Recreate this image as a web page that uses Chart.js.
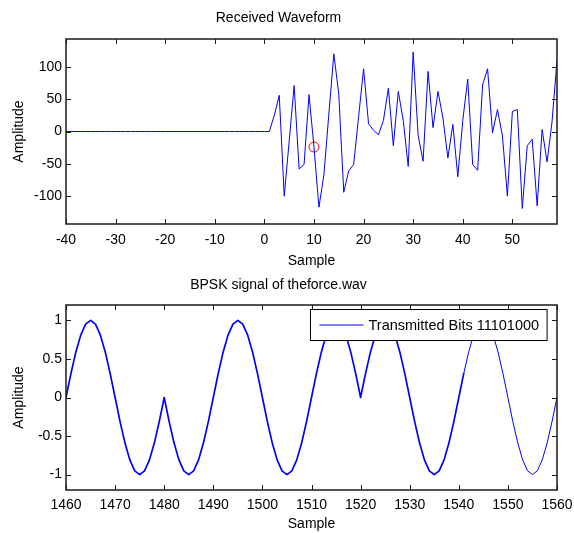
<!DOCTYPE html>
<html>
<head>
<meta charset="utf-8">
<script src="https://cdn.jsdelivr.net/npm/chart.js@4/dist/chart.umd.min.js"></script>
<style>
html,body{margin:0;padding:0;background:#fff;}
#wrap{position:relative;width:574px;height:533px;}
#topo{position:absolute;left:0;top:0;}
#baixo{position:absolute;left:0;top:270px;}
</style>
</head>
<body>
<div id="wrap">
<canvas id="topo" width="574" height="270"></canvas>
<canvas id="baixo" width="574" height="263"></canvas>
</div>
<script>
// ------------------- DADOS -------------------
// forma de onda recebida, amostras -40 .. 59
const recebidoInicio = -40;
const recebido = [
  0,0,0,0,0,0,0,0,0,0,
  0,0,0,0,0,0,0,0,0,0,
  0,0,0,0,0,0,0,0,0,0,
  0,0,0,0,0,0,0,0,0,0,
  0,                                   // amostra 0
  0,25,56,-100,-15,71,-58,-51,57,-24,  // 1..10
  -117,-67,27,120,58,-94,-61,-51,23,97,// 11..20
  12,2,-5,17,67,-22,62,17,-54,123,     // 21..30
  -6,-46,93,6,62,21,-41,11,-70,17,     // 31..40
  81,-51,-60,72,97,-2,34,-7,-100,31,   // 41..50
  34,-119,-22,-12,-115,3,-47,15,110    // 51..59
];
const marcadorX = [10];
const marcadorY = [-24];

// sinal BPSK, amostras 1460 .. 1560
const bpskInicio = 1460;
const bpsk = [
  0,0.309,0.588,0.809,0.951,1,0.951,0.809,0.588,0.309,
  0,-0.309,-0.588,-0.809,-0.951,-1,-0.951,-0.809,-0.588,-0.309,
  0,-0.309,-0.588,-0.809,-0.951,-1,-0.951,-0.809,-0.588,-0.309,
  0,0.309,0.588,0.809,0.951,1,0.951,0.809,0.588,0.309,
  0,-0.309,-0.588,-0.809,-0.951,-1,-0.951,-0.809,-0.588,-0.309,
  0,0.309,0.588,0.809,0.951,1,0.951,0.809,0.588,0.309,
  0,0.309,0.588,0.809,0.951,1,0.951,0.809,0.588,0.309,
  0,-0.309,-0.588,-0.809,-0.951,-1,-0.951,-0.809,-0.588,-0.309,
  0,0.309,0.588,0.809,0.951,1,0.951,0.809,0.588,0.309,
  0,-0.309,-0.588,-0.809,-0.951,-1,-0.951,-0.809,-0.588,-0.309,
  0
];
const legendaBpsk = "Transmitted Bits 11101000";

const fonte = '"Liberation Sans", Arial, sans-serif';
Chart.defaults.font.family = fonte;
Chart.defaults.font.size = 14;
Chart.defaults.color = '#000';

// ------------------- MOLDURA ESTILO MATLAB -------------------
const moldura = {
  id: 'moldura',
  afterDatasetsDraw(chart){
    const {ctx, chartArea:a, scales} = chart;
    ctx.save();
    ctx.strokeStyle = '#1a1a1a';
    ctx.lineWidth = 1;
    scales.x.ticks.forEach(t=>{
      const px = Math.round(scales.x.getPixelForValue(t.value)) + 0.5;
      ctx.beginPath();
      ctx.moveTo(px, a.bottom); ctx.lineTo(px, a.bottom - 5);
      ctx.moveTo(px, a.top); ctx.lineTo(px, a.top + 5);
      ctx.stroke();
    });
    scales.y.ticks.forEach(t=>{
      const py = Math.round(scales.y.getPixelForValue(t.value)) + 0.5;
      ctx.beginPath();
      ctx.moveTo(a.left, py); ctx.lineTo(a.left + 5, py);
      ctx.moveTo(a.right, py); ctx.lineTo(a.right - 5, py);
      ctx.stroke();
    });
    ctx.lineWidth = 1.5;
    ctx.strokeRect(a.left, a.top, a.right - a.left, a.bottom - a.top);
    ctx.restore();
  }
};

const legendaCaixa = {
  id: 'legendaCaixa',
  afterDraw(chart){
    const {ctx, chartArea:a} = chart;
    const texto = chart.data.datasets[0].label;
    ctx.save();
    ctx.font = '14.5px ' + fonte;
    const tw = ctx.measureText(texto).width;
    const w = 9 + 44 + 5 + tw + 8;
    const h = 31;
    const x0 = Math.round(a.right - 10 - w) + 0.5;
    const y0 = Math.round(a.top + 4) + 0.5;
    ctx.fillStyle = '#fff';
    ctx.fillRect(x0, y0, w, h);
    ctx.strokeStyle = '#000';
    ctx.lineWidth = 1;
    ctx.strokeRect(x0, y0, w, h);
    ctx.strokeStyle = '#0000ff';
    ctx.beginPath();
    ctx.moveTo(x0 + 9, y0 + h/2); ctx.lineTo(x0 + 53, y0 + h/2);
    ctx.stroke();
    ctx.fillStyle = '#000';
    ctx.textBaseline = 'middle';
    ctx.fillText(texto, x0 + 58, y0 + h/2 + 1);
    ctx.restore();
  }
};

const semVirgula = v => String(v);

function eixos(xmin, xmax, ymin, ymax, passoY, alturaX, padX){
  return {
    x:{
      type:'linear', min:xmin, max:xmax,
      grid:{display:false, drawTicks:false}, border:{display:false},
      ticks:{stepSize:10, includeBounds:false, padding:padX, maxRotation:0, autoSkip:false, callback:semVirgula},
      title:{display:true, text:'Sample', padding:{top:0,bottom:0}},
      afterFit:s=>{ s.height = alturaX; s.paddingLeft = 0; s.paddingRight = 0; }
    },
    y:{
      type:'linear', min:ymin, max:ymax,
      grid:{display:false, drawTicks:false}, border:{display:false},
      ticks:{stepSize:passoY, includeBounds:false, padding:4, callback:semVirgula},
      title:{display:true, text:'Amplitude', padding:{top:10.5,bottom:0}},
      afterFit:s=>{ s.width = 66; s.paddingTop = 0; s.paddingBottom = 0; }
    }
  };
}

// ------------------- GRÁFICO 1 -------------------
new Chart(document.getElementById('topo'),{
  type:'line',
  data:{
    datasets:[{
      label:'Received',
      data:recebido.map((v,i)=>({x:recebidoInicio + i, y:v})),
      borderColor:'#0000ff', borderWidth:1, pointRadius:0, tension:0
    },{
      label:'marcador',
      data:marcadorX.map((v,i)=>({x:v, y:marcadorY[i]})),
      showLine:false, pointRadius:5, borderColor:'#ff0000', borderWidth:1,
      backgroundColor:'rgba(0,0,0,0)'
    }]
  },
  options:{
    responsive:false, animation:false,
    layout:{padding:{left:0,right:17,top:0,bottom:0}},
    plugins:{
      legend:{display:false}, tooltip:{enabled:false},
      title:{display:true, text:'Received Waveform', font:{size:14, weight:'normal'}, padding:{top:10,bottom:12.2}}
    },
    scales:eixos(-40, 59, -143, 143, 50, 46, 7.6)
  },
  plugins:[moldura]
});

// ------------------- GRÁFICO 2 -------------------
new Chart(document.getElementById('baixo'),{
  type:'line',
  data:{
    datasets:[{
      label:legendaBpsk,
      data:bpsk.map((v,i)=>({x:bpskInicio + i, y:v})),
      borderColor:'#0000ff', borderWidth:1, pointRadius:0, tension:0,
      borderCapStyle:'round', borderJoinStyle:'round',
      segment:{ borderWidth:c=> c.p0.parsed.x < 1541 ? 1.7 : 1 }
    }]
  },
  options:{
    responsive:false, animation:false,
    layout:{padding:{left:0,right:17,top:0,bottom:0}},
    plugins:{
      legend:{display:false}, tooltip:{enabled:false},
      title:{display:true, text:'BPSK signal of theforce.wav', font:{size:14, weight:'normal'}, padding:{top:6.6,bottom:11.6}}
    },
    scales:eixos(1460, 1560, -1.2, 1.2, 0.5, 43, 6.6)
  },
  plugins:[moldura, legendaCaixa]
});
</script>
</body>
</html>
